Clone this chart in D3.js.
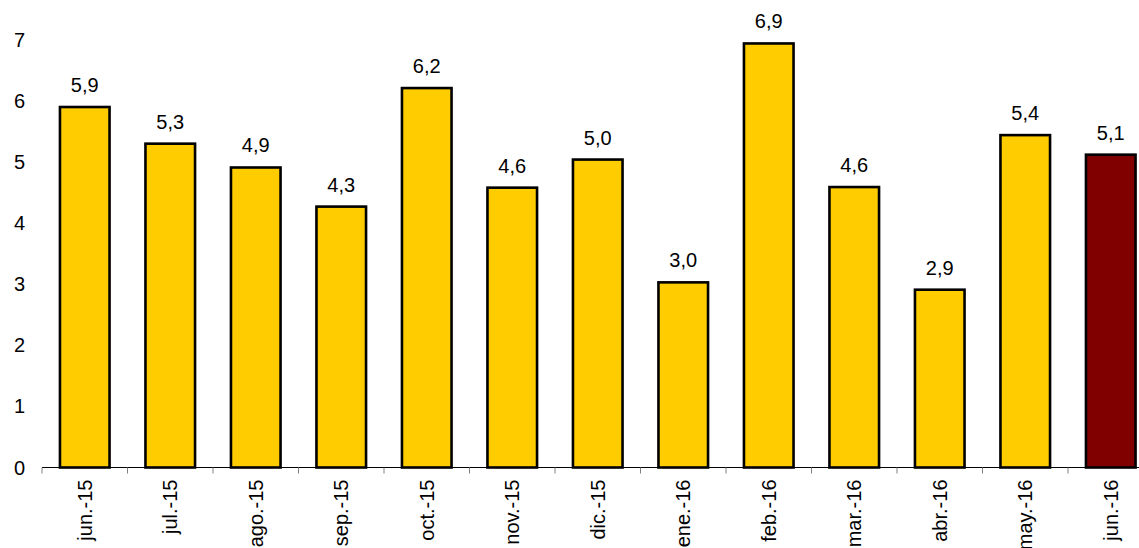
<!DOCTYPE html>
<html><head><meta charset="utf-8">
<script src="https://cdn.jsdelivr.net/npm/d3@7"></script>
<style>
html,body{margin:0;padding:0;background:#fff;}
svg text{font-family:"Liberation Sans",Arial,sans-serif;fill:#000;}
</style></head>
<body><svg id="c" width="1139" height="548"></svg>
<script>
const categories = ["jun.-15","jul.-15","ago.-15","sep.-15","oct.-15","nov.-15","dic.-15","ene.-16","feb.-16","mar.-16","abr.-16","may.-16","jun.-16"];
const values = [5.9, 5.3, 4.91, 4.27, 6.21, 4.58, 5.04, 3.03, 6.94, 4.59, 2.91, 5.44, 5.12];
const yTicks = [0,1,2,3,4,5,6,7];
const highlight = ["jun.-16"];

const svg = d3.select("#c");
const x0 = 42, x1 = 42 + 13*85.5, y0 = 467.5;
const y = d3.scaleLinear().domain([0,7]).range([y0, y0 - 7*61.1]);
const x = d3.scaleBand().domain(categories).range([x0,x1]).paddingInner(0.42).paddingOuter(0.21);
const step = x.step();
const fs = 20;

// bars
svg.append("g").selectAll("rect").data(categories).join("rect")
  .attr("x", d => x(d)).attr("width", x.bandwidth())
  .attr("y", (d,i) => y(values[i])).attr("height", (d,i) => y(0) - y(values[i]))
  .attr("fill", d => highlight.includes(d) ? "#800000" : "#FFCC00")
  .attr("stroke", "#000").attr("stroke-width", 2.6);

// value labels
const fmt = d3.format(".1f");
svg.append("g").selectAll("text").data(categories).join("text")
  .attr("x", d => x(d) + x.bandwidth()/2)
  .attr("y", (d,i) => y(values[i]) - 15)
  .attr("text-anchor","middle").attr("font-size", fs)
  .text((d,i) => fmt(values[i]).replace(".", ","));

// y tick labels (no axis line)
svg.append("g").selectAll("text").data(yTicks).join("text")
  .attr("x", 25).attr("y", d => y(d)).attr("dy","0.35em")
  .attr("text-anchor","end").attr("font-size", fs)
  .text(d => d);

// x axis line with ticks at band boundaries
const xa = svg.append("g");
xa.append("line").attr("x1", x0).attr("x2", x1).attr("y1", y0).attr("y2", y0)
  .attr("stroke","#000").attr("stroke-width",1);
const bounds = d3.range(categories.length + 1).map(i => x0 + i*step);
xa.selectAll("line.t").data(bounds).join("line").attr("class","t")
  .attr("x1", d => d).attr("x2", d => d).attr("y1", y0).attr("y2", y0 + 6)
  .attr("stroke","#808080").attr("stroke-width",1);
xa.selectAll("text").data(categories).join("text")
  .attr("transform", d => `translate(${x(d) + x.bandwidth()/2},${y0 + 12}) rotate(-90)`)
  .attr("dy","0.35em").attr("text-anchor","end").attr("font-size", fs)
  .text(d => d);
</script></body></html>
